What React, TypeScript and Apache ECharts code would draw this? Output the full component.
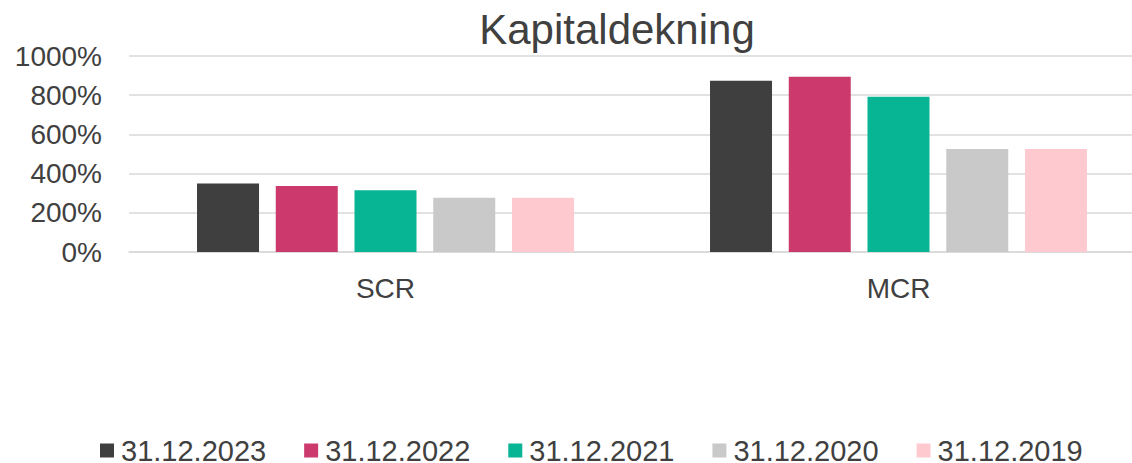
import React, { useEffect, useRef } from "react";
import * as echarts from "echarts";

const title = "Kapitaldekning";
const categories = ["SCR", "MCR"];
const seriesNames = ["31.12.2023", "31.12.2022", "31.12.2021", "31.12.2020", "31.12.2019"];
const colors = ["#3F3F3F", "#CC396D", "#07B594", "#C8C9C8", "#FECAD0"];
const values2023 = [350, 874];
const values2022 = [337, 894];
const values2021 = [315, 792];
const values2020 = [277, 525];
const values2019 = [277, 525];
const seriesValues = [values2023, values2022, values2021, values2020, values2019];
const yTicks = { min: 0, max: 1000, interval: 200 };

export default function App() {
  const ref = useRef<HTMLDivElement>(null);
  useEffect(() => {
    document.body.style.margin = "0";
    if (!ref.current) return;
    const chart = echarts.init(ref.current, undefined, { renderer: "svg" });
    const font = "'Liberation Sans', Arial, sans-serif";
    chart.setOption({
      animation: false,
      textStyle: { fontFamily: font },
      title: {
        text: title,
        left: 612,
        textAlign: "center",
        top: 3,
        textStyle: { fontFamily: font, fontSize: 42, fontWeight: "normal", color: "#404040" },
      },
      legend: {
        left: 100,
        top: 436,
        padding: 0,
        icon: "rect",
        itemWidth: 14,
        itemHeight: 14,
        itemGap: 38,
        textStyle: {
          fontFamily: font,
          fontSize: 29,
          lineHeight: 26,
          color: "#404040",
          padding: [0, 0, 0, 2],
        },
        data: seriesNames,
      },
      grid: { left: 129, top: 56, bottom: 211, right: 5, containLabel: false },
      xAxis: {
        type: "category",
        data: categories,
        axisLine: { show: true, lineStyle: { color: "#D9D9D9", width: 1.5 } },
        axisTick: { show: false },
        axisLabel: { fontFamily: font, fontSize: 28, color: "#404040", margin: 22 },
      },
      yAxis: {
        type: "value",
        min: yTicks.min,
        max: yTicks.max,
        interval: yTicks.interval,
        axisLine: { show: false },
        axisTick: { show: false },
        splitLine: { lineStyle: { color: "#D9D9D9", width: 1.5 } },
        axisLabel: {
          fontFamily: font,
          fontSize: 28,
          color: "#404040",
          margin: 27,
          formatter: (v: number) => String(v) + "%",
        },
      },
      series: seriesNames.map((name, i) => ({
        name,
        type: "bar",
        data: seriesValues[i],
        barWidth: 62,
        barGap: "27%",
        itemStyle: { color: colors[i] },
      })),
    });
    return () => chart.dispose();
  }, []);
  return (
    <div style={{ width: 1132, height: 463, overflow: "hidden" }}>
      <div ref={ref} style={{ width: 1160, height: 463 }} />
    </div>
  );
}
